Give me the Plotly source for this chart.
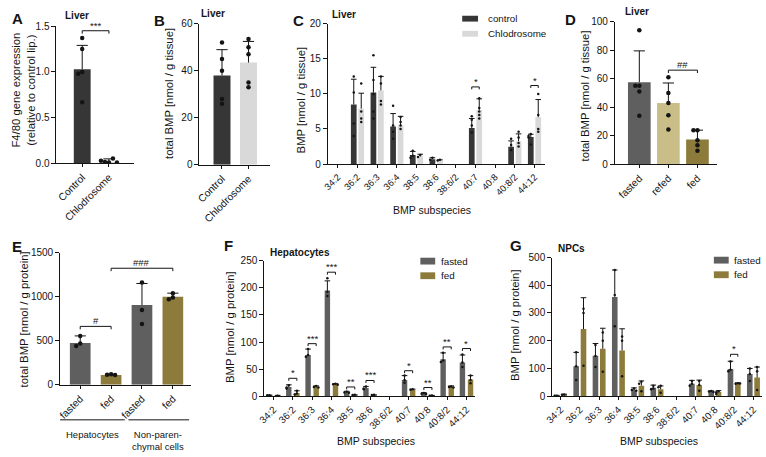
import plotly.graph_objects as go

W, H = 766, 457
FONT = "Liberation Sans, Arial, Helvetica, sans-serif"
INK = "#141414"

CTRL = "#363636"
CHLO = "#d9d9d9"
FAST = "#5f5f5f"
REFED = "#c9bd88"
FED = "#8c7b3a"

# ---------------- data ----------------
# A  F4/80 expression
a_cats = ["Control", "Chlodrosome"]
a_mean = [1.03, 0.02]
a_top = [1.29, 0.05]
a_pts = [[1.37, 1.25, 1.00, 0.98, 0.67], [0.01, 0.015, 0.055, 0.03, 0.01]]

# B  total BMP liver
b_cats = ["Control", "Chlodrosome"]
b_mean = [38.0, 43.5]
b_top = [49.0, 52.5]
b_pts = [[52.0, 45.0, 40.0, 28.0, 26.0], [53.5, 50.0, 47.0, 35.0, 33.0]]

# C  BMP subspecies liver
species = ["34:2", "36:2", "36:3", "36:4", "38:5", "38:6", "38:6/2", "40:7", "40:8", "40:8/2", "44:12"]
c_ctrl_mean = [None, 8.5, 10.2, 5.35, 1.3, 0.7, None, 5.15, None, 2.45, 3.85]
c_ctrl_top = [None, 12.1, 13.8, 7.2, 1.8, 0.9, None, 6.5, None, 3.3, 4.25]
c_ctrl_pts = [[], [12.5, 10.2, 5.8, 4.0], [15.5, 12.0, 10.0, 7.5, 6.5], [8.3, 5.5, 4.6, 3.6],
              [1.9, 1.2, 0.9], [0.9, 0.6], [], [6.8, 6.3, 5.5, 4.5], [], [3.6, 2.7, 2.0],
              [4.3, 4.0, 3.8, 2.8]]
c_chl_mean = [None, 7.9, 10.5, 5.5, 1.1, 0.5, None, 7.7, None, 3.25, 6.7]
c_chl_top = [None, 10.1, 12.5, 6.8, 1.4, 0.6, None, 9.3, None, 4.3, 9.2]
c_chl_pts = [[], [11.5, 7.5, 6.5, 6.0], [12.5, 11.5, 9.0, 8.5], [6.7, 6.0, 5.5, 5.0],
             [1.3, 1.0], [0.6, 0.5], [], [9.4, 8.0, 7.5, 7.0, 6.5], [], [4.6, 3.8, 3.0, 2.5],
             [10.0, 7.0, 5.0, 4.6]]
c_sig = [(7, 11.0, "*"), (10, 11.2, "*")]

# D  total BMP fasting / refeeding
d_cats = ["fasted", "refed", "fed"]
d_mean = [57.5, 43.0, 17.5]
d_top = [79.5, 57.0, 24.0]
d_pts = [[94.0, 55.0, 55.0, 51.0, 34.0], [61.0, 50.0, 43.0, 34.5, 24.5], [24.0, 24.0, 17.0, 13.5, 9.5]]

# E  total BMP per cell type
e_cats = ["fasted", "fed", "fasted", "fed"]
e_mean = [475.0, 110.0, 905.0, 1000.0]
e_top = [555.0, 120.0, 1150.0, 1040.0]
e_pts = [[555.0, 470.0, 440.0], [120.0, 115.0, 110.0], [1160.0, 850.0, 690.0], [1040.0, 990.0, 970.0]]
e_groups = ["Hepatocytes", "Non-paren-<br>chymal cells"]

# F  hepatocytes subspecies
f_fast_mean = [1.5, 17, 76, 195, 7, 15, None, 30, 5, 68, 62]
f_fast_top = [1.8, 21, 87, 213, 9, 18, None, 38, 6.5, 80, 76]
f_fast_pts = [[1.5, 1.5], [20, 16, 14], [87, 76, 73], [218, 193, 185], [8, 7, 6.5], [18, 14, 13], [],
              [38, 30, 25], [6, 4.5, 4], [80, 66, 63], [77, 62, 54]]
f_fed_mean = [0.8, 6, 17, 22, 2, 2, None, 12, 1, 17, 31]
f_fed_top = [1.0, 10, 19, 23, 2.5, 2.5, None, 13, 1.2, 19, 38]
f_fed_pts = [[0.8], [10, 5, 3], [19, 17, 16], [23, 22, 21], [2.5, 2], [2.5, 2], [], [13, 12],
             [1.2, 1], [18, 17, 16], [38, 30, 24]]
f_sig = [(1, 33, "*"), (2, 97, "***"), (3, 229, "***"), (4, 17, "**"), (5, 29, "***"),
         (7, 47, "*"), (8, 16, "**"), (9, 91, "**"), (10, 88, "*")]

# G  NPC subspecies
g_fast_mean = [2, 108, 146, 358, 23, 30, None, 45, 17, 98, 80]
g_fast_top = [3, 158, 190, 455, 30, 40, None, 57, 19, 126, 100]
g_fast_pts = [[2, 2], [158, 108, 58], [185, 145, 105], [455, 365, 252], [28, 22, 20], [38, 28, 25], [],
              [55, 45, 38], [19, 17, 15], [125, 95, 90], [100, 80, 55]]
g_fed_mean = [6, 242, 171, 165, 38, 25, None, 40, 15, 46, 67]
g_fed_top = [7, 355, 245, 243, 55, 37, None, 58, 20, 48, 105]
g_fed_pts = [[6, 5], [315, 300, 110], [230, 200, 88], [215, 200, 72], [52, 45, 18], [38, 32, 12], [],
             [55, 40, 20], [18, 14, 8], [47, 45, 46], [105, 90, 22]]
g_sig = [(9, 151, "*")]

# ---------------- geometry (pixels) ----------------
GEOM = {
    "A": dict(s="", x=(49, 127), y=(20.7, 161.7), xr=(-0.963, 1.926), yr=(0, 1.5), dtick=0.5, fmt=".1f"),
    "B": dict(s="2", x=(193.5, 265), y=(18.3, 163), xr=(-0.85, 1.82), yr=(0, 60), dtick=20, fmt="d"),
    "C": dict(s="3", x=(323.3, 543), y=(18.3, 162.3), xr=(-0.503, 10.55), yr=(0, 20), dtick=5, fmt="d"),
    "D": dict(s="4", x=(613.3, 716.7), y=(16, 162.7), xr=(-0.84, 2.68), yr=(0, 100), dtick=20, fmt="d"),
    "E": dict(s="5", x=(52.7, 185), y=(253.3, 389), xr=(-0.65, 3.59), yr=(0, 1500), dtick=500, fmt="d"),
    "F": dict(s="6", x=(259, 471.7), y=(261.7, 400.7), xr=(-0.48, 10.43), yr=(0, 250), dtick=50, fmt="d"),
    "G": dict(s="7", x=(550, 761.7), y=(258.3, 400.7), xr=(-0.43, 10.43), yr=(0, 500), dtick=100, fmt="d"),
}


def ppu_x(g):
    return (g["x"][1] - g["x"][0]) / (g["xr"][1] - g["xr"][0])


def upp_y(g):
    return (g["yr"][1] - g["yr"][0]) / (g["y"][1] - g["y"][0])


fig = go.Figure()
annotations = []
shapes = []


def jitter(vals, step, tol):
    offs, placed = [], []
    for v in vals:
        n = sum(1 for p in placed if abs(p - v) < tol)
        k = (n + 1) // 2
        sign = -1 if n % 2 else 1
        offs.append(0 if n == 0 else sign * k * step)
        placed.append(v)
    return offs


def add_series(key, xs, means, tops, pts, color, width, dot, cap):
    g = GEOM[key]
    s = g["s"]
    xa, ya = "x" + s, "y" + s
    idx = [i for i, m in enumerate(means) if m is not None]
    bx = [xs[i] for i in idx]
    by = [means[i] for i in idx]
    bt = [tops[i] for i in idx]
    cols = color if isinstance(color, str) else [color[i] for i in idx]
    fig.add_trace(go.Bar(x=bx, y=by, width=width, marker=dict(color=cols, line=dict(width=0)),
                         xaxis=xa, yaxis=ya, showlegend=False, hoverinfo="skip"))
    # error stems (upward SD)
    fig.add_trace(go.Scatter(x=bx, y=by, mode="markers", marker=dict(size=0.1, color="rgba(0,0,0,0)"),
                             error_y=dict(type="data", symmetric=False, array=[t - m for t, m in zip(bt, by)],
                                          arrayminus=[0] * len(by), width=0, thickness=1, color=INK),
                             xaxis=xa, yaxis=ya, showlegend=False, hoverinfo="skip"))
    # caps
    fig.add_trace(go.Scatter(x=bx, y=bt, mode="markers",
                             marker=dict(symbol="line-ew", size=cap, line=dict(width=1, color=INK)),
                             xaxis=xa, yaxis=ya, showlegend=False, hoverinfo="skip"))
    # individual points
    dx, dy = [], []
    step = dot * 0.9 / ppu_x(g)
    tol = dot * 1.0 * upp_y(g)
    for i in idx:
        vals = pts[i]
        offs = jitter(vals, step, tol)
        for v, o in zip(vals, offs):
            dx.append(xs[i] + o)
            dy.append(v)
    fig.add_trace(go.Scatter(x=dx, y=dy, mode="markers", marker=dict(size=dot, color=INK),
                             xaxis=xa, yaxis=ya, showlegend=False, hoverinfo="skip"))


def bracket(key, x0, x1, y, text, tick_px=3, fs=9.5, yshift=1):
    g = GEOM[key]
    s = g["s"]
    xa, ya = "x" + s, "y" + s
    dt = tick_px * upp_y(g)
    line = dict(color=INK, width=1)
    shapes.append(dict(type="line", xref=xa, yref=ya, x0=x0, x1=x1, y0=y, y1=y, line=line))
    shapes.append(dict(type="line", xref=xa, yref=ya, x0=x0, x1=x0, y0=y, y1=y - dt, line=line))
    shapes.append(dict(type="line", xref=xa, yref=ya, x0=x1, x1=x1, y0=y, y1=y - dt, line=line))
    annotations.append(dict(x=(x0 + x1) / 2, y=y, xref=xa, yref=ya, text=text, showarrow=False,
                            yanchor="bottom", yshift=yshift - 3, font=dict(size=fs, color=INK, family=FONT)))


def ptext(px, py, text, size, xanchor="center", yanchor="middle", angle=0, bold=False):
    t = "<b>%s</b>" % text if bold else text
    annotations.append(dict(x=px / W, y=1 - py / H, xref="paper", yref="paper", text=t, showarrow=False,
                            xanchor=xanchor, yanchor=yanchor, textangle=angle,
                            font=dict(size=size, color=INK, family=FONT)))


def prect(x0, y0, x1, y1, color):
    shapes.append(dict(type="rect", xref="paper", yref="paper", x0=x0 / W, x1=x1 / W,
                       y0=1 - y1 / H, y1=1 - y0 / H, fillcolor=color, line=dict(width=0)))


def pline(x0, y0, x1, y1):
    shapes.append(dict(type="line", xref="paper", yref="paper", x0=x0 / W, x1=x1 / W,
                       y0=1 - y0 / H, y1=1 - y1 / H, line=dict(color=INK, width=1)))


# ---------------- traces ----------------
add_series("A", list(range(len(a_cats))), a_mean, a_top, a_pts, [CTRL, CHLO], 0.63, 4.5, 8)
add_series("B", list(range(len(b_cats))), b_mean, b_top, b_pts, [CTRL, CHLO], 0.64, 4.5, 8)
n = len(species)
add_series("C", [i - 0.19 for i in range(n)], c_ctrl_mean, c_ctrl_top, c_ctrl_pts, CTRL, 0.29, 2.5, 4)
add_series("C", [i + 0.19 for i in range(n)], c_chl_mean, c_chl_top, c_chl_pts, CHLO, 0.29, 2.5, 4)
add_series("D", list(range(len(d_cats))), d_mean, d_top, d_pts, [FAST, REFED, FED], 0.78, 4.5, 8)
add_series("E", list(range(len(e_cats))), e_mean, e_top, e_pts, [FAST, FED, FAST, FED], 0.67, 4.5, 8)
add_series("F", [i - 0.21 for i in range(n)], f_fast_mean, f_fast_top, f_fast_pts, FAST, 0.28, 2.5, 4)
add_series("F", [i + 0.21 for i in range(n)], f_fed_mean, f_fed_top, f_fed_pts, FED, 0.28, 2.5, 4)
add_series("G", [i - 0.19 for i in range(n)], g_fast_mean, g_fast_top, g_fast_pts, FAST, 0.29, 2.5, 4)
add_series("G", [i + 0.19 for i in range(n)], g_fed_mean, g_fed_top, g_fed_pts, FED, 0.29, 2.5, 4)

# ---------------- significance ----------------
bracket("A", 0, 1, 1.45, "***")
for i, y, t in c_sig:
    bracket("C", i - 0.19, i + 0.19, y, t, tick_px=2.5)
bracket("D", 1, 2, 66, "##")
bracket("E", 0, 1, 663, "#")
bracket("E", 1, 3, 1323, "###")
for i, y, t in f_sig:
    bracket("F", i - 0.21, i + 0.21, y, t, tick_px=2.5)
for i, y, t in g_sig:
    bracket("G", i - 0.19, i + 0.19, y, t, tick_px=2.5)

# ---------------- axes ----------------
cat_text = {"A": a_cats, "B": b_cats, "C": species, "D": d_cats, "E": e_cats, "F": species, "G": species}
cat_font = {"A": 10.3, "B": 10.3, "C": 9.3, "D": 10.3, "E": 10.3, "F": 9.8, "G": 9.8}
layout_axes = {}
for key, g in GEOM.items():
    s = g["s"]
    cats = cat_text[key]
    layout_axes["xaxis" + s] = dict(
        domain=[g["x"][0] / W, g["x"][1] / W], range=list(g["xr"]), anchor="y" + s,
        tickmode="array", tickvals=list(range(len(cats))), ticktext=cats, tickangle=-45,
        showline=True, linecolor=INK, linewidth=1, ticks="outside", ticklen=3, tickwidth=1,
        tickcolor=INK, showgrid=False, zeroline=False, fixedrange=True,
        tickfont=dict(size=cat_font[key], color=INK, family=FONT))
    layout_axes["yaxis" + s] = dict(
        domain=[1 - g["y"][1] / H, 1 - g["y"][0] / H], range=list(g["yr"]), anchor="x" + s,
        dtick=g["dtick"], tick0=0, tickformat=g["fmt"],
        showline=True, linecolor=INK, linewidth=1, ticks="outside", ticklen=4, tickwidth=1,
        tickcolor=INK, showgrid=False, zeroline=False, fixedrange=True,
        tickfont=dict(size=10, color=INK, family=FONT))

# ---------------- texts ----------------
for letter, (px, py) in {"A": (2, 2), "B": (146, 4), "C": (286, 4), "D": (561, 3),
                         "E": (2, 236), "F": (216, 235), "G": (505, 235)}.items():
    ptext(px, py, letter, 15, xanchor="left", yanchor="top", bold=True)

ptext(70, 10, "Liver", 10, bold=True)
ptext(207, 8, "Liver", 10, bold=True)
ptext(340, 9, "Liver", 10, bold=True)
ptext(636, 6, "Liver", 10, bold=True)
ptext(295, 253, "Hepatocytes", 10, bold=True)
ptext(569, 249, "NPCs", 10, bold=True)

ptext(16, 86, "F4/80 gene expression<br>(relative to control lip.)", 11.3, angle=-90)
ptext(162, 90, "total BMP [nmol / g tissue]", 11.3, angle=-90)
ptext(297, 96, "BMP [nmol / g tissue]", 11.3, angle=-90)
ptext(583, 92, "total BMP [nmol / g tissue]", 11.3, angle=-90)
ptext(16, 322, "total BMP [nmol / g protein]", 11.3, angle=-90)
ptext(225, 330, "BMP [nmol / g protein]", 11.3, angle=-90)
ptext(513, 328, "BMP [nmol / g protein]", 11.3, angle=-90)

ptext(428, 210, "BMP subspecies", 10.5)
ptext(371.5, 446.5, "BMP subspecies", 10.5)
ptext(657.5, 446.5, "BMP subspecies", 10.5)

# legends
prect(459, 10, 475, 16, CTRL)
prect(459, 25.5, 475, 31.5, CHLO)
ptext(483, 13, "control", 9.8, xanchor="left")
ptext(483, 28.5, "Chlodrosome", 9.8, xanchor="left")
prect(416.7, 258.5, 431.7, 265.5, FAST)
prect(416.7, 273.5, 431.7, 280.5, FED)
ptext(435.5, 262, "fasted", 9.8, xanchor="left")
ptext(435.5, 277, "fed", 9.8, xanchor="left")
prect(713.3, 257.5, 728.3, 264.5, FAST)
prect(713.3, 272.5, 728.3, 279.5, FED)
ptext(732, 261, "fasted", 9.8, xanchor="left")
ptext(732, 276, "fed", 9.8, xanchor="left")

# E group lines and labels
pline(52.7, 425, 118, 425)
pline(121.7, 425, 183, 425)
ptext(85.5, 440, e_groups[0], 9.5)
ptext(152, 446, e_groups[1], 9.5)

fig.update_layout(
    width=W, height=H, autosize=False,
    margin=dict(l=0, r=0, t=0, b=0, pad=0),
    paper_bgcolor="white", plot_bgcolor="white",
    barmode="overlay", showlegend=False,
    font=dict(family=FONT, color=INK),
    annotations=annotations, shapes=shapes,
    **layout_axes)

fig.write_html(
    "out.html",
    config={"displayModeBar": False},
    post_script="document.body.style.margin='0';document.body.style.padding='0';"
                "document.body.style.overflow='hidden';",
)
